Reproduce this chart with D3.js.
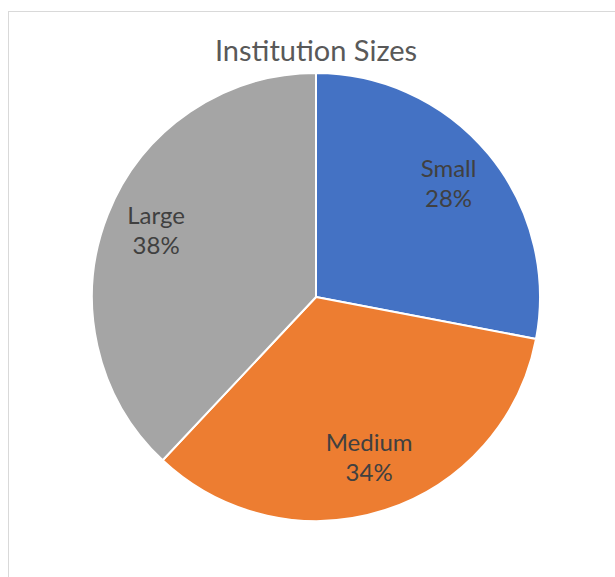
<!DOCTYPE html>
<html>
<head>
<meta charset="utf-8">
<script src="https://cdn.jsdelivr.net/npm/d3@7"></script>
<style>
  html, body { margin: 0; padding: 0; background: #fff; }
  svg { display: block; }
</style>
</head>
<body>
<svg id="chart" width="615" height="577"></svg>
<script>
// Institution size breakdown
const categories = ["Small", "Medium", "Large"];
const shares = [28, 34, 38];
const colors = ["#4472C4", "#ED7D31", "#A5A5A5"];

const W = 615, H = 577;
const cx = 316, cy = 297, R = 224, labelR = 172;
const FONT = "Lato, 'Open Sans', sans-serif";

const svg = d3.select("#chart");

// chart area border
svg.append("rect")
  .attr("x", 8.5).attr("y", 11.5)
  .attr("width", W + 10).attr("height", H + 10)
  .attr("fill", "#fff")
  .attr("stroke", "#d9d9d9").attr("stroke-width", 1);

svg.append("text")
  .attr("x", cx).attr("y", 61)
  .attr("text-anchor", "middle")
  .attr("font-family", FONT)
  .attr("font-size", 29)
  .attr("fill", "#595959")
  .text("Institution Sizes");

const data = categories.map((c, i) => ({ name: c, value: shares[i], color: colors[i] }));

const pie = d3.pie().sort(null).value(d => d.value);
const arc = d3.arc().innerRadius(0).outerRadius(R);
const labelArc = d3.arc().innerRadius(labelR).outerRadius(labelR);

const g = svg.append("g").attr("transform", `translate(${cx},${cy})`);
const arcs = pie(data);

g.selectAll("path.slice")
  .data(arcs)
  .join("path")
  .attr("class", "slice")
  .attr("d", arc)
  .attr("fill", d => d.data.color)
  .attr("stroke", "#fff")
  .attr("stroke-width", 2)
  .attr("stroke-linejoin", "round");

const labels = g.selectAll("g.lbl")
  .data(arcs)
  .join("g")
  .attr("class", "lbl")
  .attr("transform", d => `translate(${labelArc.centroid(d)})`);

labels.append("text")
  .attr("text-anchor", "middle")
  .attr("font-family", FONT)
  .attr("font-size", 24)
  .attr("fill", "#404040")
  .attr("y", -10)
  .text(d => d.data.name);

labels.append("text")
  .attr("text-anchor", "middle")
  .attr("font-family", FONT)
  .attr("font-size", 24)
  .attr("fill", "#404040")
  .attr("y", 20)
  .text(d => d.data.value + "%");
</script>
</body>
</html>
